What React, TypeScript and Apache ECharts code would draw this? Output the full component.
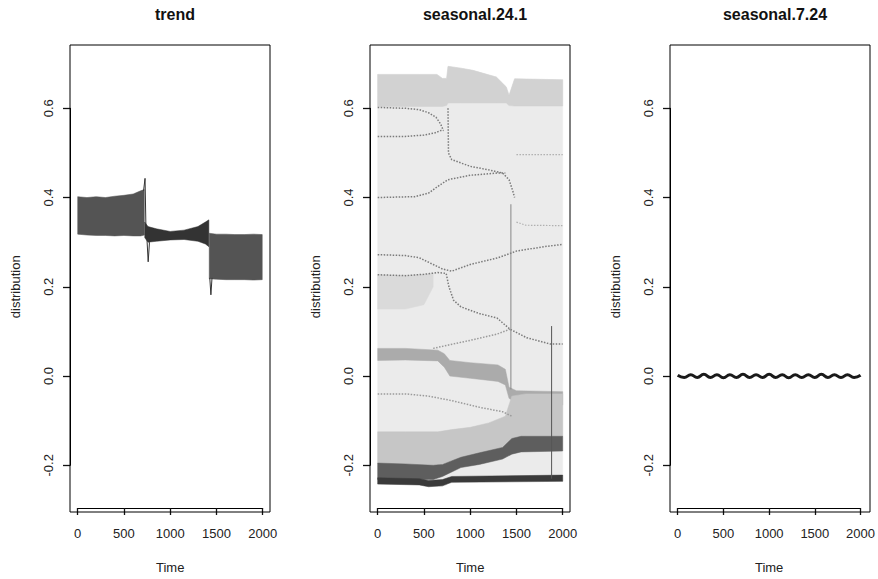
import React, { useEffect, useRef } from "react";
import * as echarts from "echarts";

// ---- axis ticks ----
const xTicks = [0, 500, 1000, 1500, 2000];
const yTicks = [-0.2, 0.0, 0.2, 0.4, 0.6];
const titles = ["trend", "seasonal.24.1", "seasonal.7.24"];

// ---- trend panel (dense oscillation drawn as envelope bands) ----
const trendT1 = [0, 100, 200, 300, 400, 500, 600, 680, 720];
const trendHi1 = [0.402, 0.4, 0.402, 0.4, 0.403, 0.405, 0.408, 0.415, 0.418];
const trendLo1 = [0.318, 0.316, 0.315, 0.315, 0.314, 0.315, 0.314, 0.314, 0.316];
const trendT2 = [725, 760, 850, 1000, 1150, 1300, 1380, 1418];
const trendHi2 = [0.345, 0.335, 0.33, 0.324, 0.327, 0.335, 0.345, 0.35];
const trendLo2 = [0.31, 0.3, 0.302, 0.305, 0.306, 0.302, 0.296, 0.29];
const trendT3 = [1422, 1500, 1600, 1700, 1800, 1900, 1995];
const trendHi3 = [0.32, 0.318, 0.318, 0.317, 0.317, 0.318, 0.317];
const trendLo3 = [0.218, 0.217, 0.216, 0.216, 0.216, 0.215, 0.216];
const trendSpikeA = [[712, 0.415], [728, 0.443], [738, 0.33]];
const trendSpikeB = [[748, 0.31], [762, 0.256], [776, 0.3]];
const trendSpikeC = [[1428, 0.22], [1440, 0.182], [1452, 0.22]];

// ---- seasonal.24.1 panel ----
const sAllT = [0, 450, 640, 700, 745, 760, 900, 1030, 1283, 1390, 1420, 1480, 2000];
const sAllHi = [0.676, 0.676, 0.676, 0.667, 0.667, 0.694, 0.69, 0.685, 0.67, 0.648, 0.629, 0.666, 0.664];
const sAllLo = [-0.243, -0.243, -0.247, -0.247, -0.244, -0.24, -0.238, -0.238, -0.237, -0.237, -0.236, -0.236, -0.236];
const sTopT = [0, 640, 700, 745, 760, 900, 1030, 1283, 1390, 1420, 1480, 2000];
const sTopHi = [0.676, 0.676, 0.667, 0.667, 0.694, 0.69, 0.685, 0.67, 0.648, 0.629, 0.666, 0.664];
const sTopLo = [0.604, 0.604, 0.604, 0.606, 0.612, 0.612, 0.612, 0.612, 0.612, 0.606, 0.605, 0.605];
const sMidT = [0, 300, 500, 600];
const sMidHi = [0.227, 0.225, 0.228, 0.23];
const sMidLo = [0.15, 0.15, 0.16, 0.2];
const sAT = [0, 300, 650, 720, 780, 1000, 1300, 1380, 1420, 1500, 2000];
const sAHi = [0.062, 0.062, 0.058, 0.05, 0.035, 0.03, 0.025, 0.015, -0.025, -0.033, -0.035];
const sALo = [0.035, 0.036, 0.034, 0.02, 0.0, -0.005, -0.012, -0.02, -0.05, -0.06, -0.065];
const sBT = [0, 300, 650, 800, 1000, 1200, 1380, 1450, 1600, 2000];
const sBHi = [-0.125, -0.125, -0.125, -0.12, -0.115, -0.105, -0.09, -0.045, -0.04, -0.04];
const sBLo = [-0.195, -0.197, -0.2, -0.19, -0.18, -0.17, -0.16, -0.14, -0.135, -0.135];
const sCT = [0, 300, 600, 700, 900, 1100, 1350, 1450, 1550, 2000];
const sCHi = [-0.195, -0.197, -0.2, -0.198, -0.182, -0.172, -0.16, -0.14, -0.135, -0.135];
const sCLo = [-0.232, -0.232, -0.232, -0.225, -0.205, -0.198, -0.186, -0.175, -0.17, -0.168];
const sDT = [0, 450, 550, 700, 800, 2000];
const sDHi = [-0.228, -0.23, -0.234, -0.232, -0.225, -0.222];
const sDLo = [-0.242, -0.244, -0.248, -0.246, -0.238, -0.236];

const curve1 = [[0, 0.602], [300, 0.6], [450, 0.597], [550, 0.59], [630, 0.58], [680, 0.565], [710, 0.55]];
const curve2 = [[0, 0.537], [300, 0.537], [500, 0.54], [620, 0.545], [680, 0.55], [710, 0.55]];
const curve3 = [[760, 0.6], [765, 0.5], [800, 0.485], [1000, 0.47], [1200, 0.462], [1350, 0.455], [1420, 0.44], [1460, 0.415], [1480, 0.4]];
const curve4 = [[0, 0.4], [400, 0.402], [550, 0.41], [650, 0.425], [760, 0.44], [1000, 0.45], [1300, 0.455], [1380, 0.455]];
const curve5 = [[1500, 0.496], [2000, 0.496]];
const curve6 = [[1500, 0.345], [1600, 0.338], [2000, 0.337]];
const curve7 = [[0, 0.272], [300, 0.27], [450, 0.265], [600, 0.25], [700, 0.24], [800, 0.235], [1000, 0.25], [1300, 0.265], [1500, 0.28], [1800, 0.29], [2000, 0.295]];
const curve8 = [[0, 0.227], [300, 0.225], [500, 0.228], [650, 0.232], [740, 0.23], [770, 0.2], [820, 0.17], [900, 0.155], [1100, 0.14], [1290, 0.13], [1430, 0.105], [1610, 0.086], [1860, 0.072], [2000, 0.072]];
const curve9 = [[600, 0.062], [820, 0.072], [1000, 0.08], [1290, 0.094], [1430, 0.105]];
const curve10 = [[0, -0.04], [300, -0.04], [550, -0.045], [800, -0.055], [1100, -0.07], [1350, -0.08], [1450, -0.09]];
const spike1 = [[1880, 0.112], [1880, -0.23]];
const spike2 = [[1440, 0.385], [1440, -0.03]];

// ---- seasonal.7.24 panel ----
const waveT = [0, 71, 143, 214, 286, 357, 429, 500, 571, 643, 714, 786, 857, 929, 1000, 1071, 1143, 1214, 1286, 1357, 1429, 1500, 1571, 1643, 1714, 1786, 1857, 1929, 2000];
const waveV = [0.002, -0.003, 0.003, -0.003, 0.004, -0.003, 0.003, -0.004, 0.003, -0.003, 0.004, -0.003, 0.003, -0.003, 0.004, -0.003, 0.003, -0.004, 0.003, -0.003, 0.003, -0.003, 0.004, -0.003, 0.003, -0.003, 0.003, -0.003, 0.002];

const FONT = "'Liberation Sans', Arial, Helvetica, sans-serif";
const BOX_LEFTS = [70, 370, 670];
const BOX = { top: 45, width: 200, height: 467 };
// plotting area spanned by the tick range (R draws axis lines from first to last tick)
const PLOT = { dx: 7.7, top: 108.3, width: 185, height: 361 };

function band(idx: number, t: number[], lo: number[], hi: number[], color: string) {
  return {
    type: "custom",
    xAxisIndex: idx,
    yAxisIndex: idx,
    clip: false,
    silent: true,
    data: [[t[0], lo[0]]],
    renderItem: (_p: any, api: any) => {
      const pts: number[][] = [];
      for (let i = 0; i < t.length; i++) pts.push(api.coord([t[i], hi[i]]));
      for (let i = t.length - 1; i >= 0; i--) pts.push(api.coord([t[i], lo[i]]));
      return { type: "polygon", shape: { points: pts }, style: { fill: color, stroke: color, lineWidth: 0.5 } };
    },
  };
}

function line(idx: number, data: number[][], color: string, width: number, dotted: boolean, smooth = false) {
  return {
    type: "line",
    xAxisIndex: idx,
    yAxisIndex: idx,
    data,
    showSymbol: false,
    symbol: "none",
    smooth,
    clip: false,
    silent: true,
    lineStyle: { color, width, type: dotted ? [1.5, 1.5] : "solid" },
  };
}

export default function App() {
  const ref = useRef<HTMLDivElement>(null);
  useEffect(() => {
    if (!ref.current) return;
    const chart = echarts.init(ref.current, null, { renderer: "svg" });
    const grids = BOX_LEFTS.map((l) => ({
      left: l + PLOT.dx, top: PLOT.top, width: PLOT.width, height: PLOT.height, show: false,
    }));
    const xOffset = BOX.top + BOX.height - (PLOT.top + PLOT.height);
    const xAxes = BOX_LEFTS.map((_, i) => ({
      type: "value", gridIndex: i, min: xTicks[0], max: xTicks[xTicks.length - 1], interval: 500,
      position: "bottom", offset: xOffset,
      name: "Time", nameLocation: "middle", nameGap: 53,
      nameTextStyle: { fontFamily: FONT, fontSize: 13, color: "#222" },
      axisLine: { show: true, onZero: false, lineStyle: { color: "#000", width: 1 } },
      splitLine: { show: false },
      axisTick: { show: true, length: 7, inside: false, lineStyle: { color: "#111", width: 1.3 } },
      axisLabel: {
        fontFamily: FONT, fontSize: 13, color: "#222", margin: 19, showMinLabel: true, showMaxLabel: true,
        formatter: (v: number) => String(v),
      },
    }));
    const yAxes = BOX_LEFTS.map((_, i) => ({
      type: "value", gridIndex: i, min: yTicks[0], max: yTicks[yTicks.length - 1], interval: 0.2,
      position: "left", offset: PLOT.dx,
      name: "distribution", nameLocation: "middle", nameGap: 48,
      nameTextStyle: { fontFamily: FONT, fontSize: 13, color: "#222" },
      axisLine: { show: true, onZero: false, lineStyle: { color: "#000", width: 1 } },
      splitLine: { show: false },
      axisTick: { show: true, length: 7, inside: false, lineStyle: { color: "#111", width: 1.3 } },
      axisLabel: {
        rotate: 90, fontFamily: FONT, fontSize: 13, color: "#222", margin: 15, showMinLabel: true, showMaxLabel: true,
        formatter: (v: number) => v.toFixed(1),
      },
    }));
    const title = titles.map((t, i) => ({
      text: t, left: BOX_LEFTS[i] + BOX.width / 2, top: 1, textAlign: "center",
      textStyle: { fontFamily: FONT, fontSize: 16, fontWeight: "bold", color: "#111" },
    }));
    const graphic = BOX_LEFTS.map((l) => ({
      type: "rect", silent: true, z: 100,
      shape: { x: l, y: BOX.top, width: BOX.width, height: BOX.height },
      style: { fill: "none", stroke: "#000", lineWidth: 1 },
    }));
    const dot = "#7a7a7a";
    const series: any[] = [
      // trend
      band(0, trendT1, trendLo1, trendHi1, "#545454"),
      band(0, trendT2, trendLo2, trendHi2, "#333333"),
      band(0, trendT3, trendLo3, trendHi3, "#545454"),
      line(0, trendSpikeA, "#333", 1, false),
      line(0, trendSpikeB, "#333", 1, false),
      line(0, trendSpikeC, "#333", 1, false),
      // seasonal.24.1
      band(1, sAllT, sAllLo, sAllHi, "#ebebeb"),
      band(1, sTopT, sTopLo, sTopHi, "#d2d2d2"),
      band(1, sMidT, sMidLo, sMidHi, "#dadada"),
      band(1, sAT, sALo, sAHi, "#ababab"),
      band(1, sBT, sBLo, sBHi, "#c6c6c6"),
      band(1, sCT, sCLo, sCHi, "#5e5e5e"),
      band(1, sDT, sDLo, sDHi, "#3a3a3a"),
      line(1, curve1, dot, 1.5, true),
      line(1, curve2, dot, 1.5, true),
      line(1, curve3, dot, 1.5, true),
      line(1, curve4, dot, 1.5, true),
      line(1, curve5, "#b0b0b0", 1.2, true),
      line(1, curve6, "#b0b0b0", 1.2, true),
      line(1, curve7, dot, 1.5, true),
      line(1, curve8, dot, 1.5, true),
      line(1, curve9, "#9a9a9a", 1.5, true),
      line(1, curve10, "#9a9a9a", 1.5, true),
      line(1, spike1, "#555", 1, false),
      line(1, spike2, "#888", 1, false),
      // seasonal.7.24
      line(2, waveT.map((t, i) => [t, waveV[i]]), "#1a1a1a", 3, false, true),
    ];
    chart.setOption({
      animation: false,
      backgroundColor: "#fff",
      title,
      grid: grids,
      xAxis: xAxes,
      yAxis: yAxes,
      graphic,
      series,
    });
    return () => chart.dispose();
  }, []);
  return <div ref={ref} style={{ position: "fixed", left: 0, top: 0, width: 878, height: 579 }} />;
}
